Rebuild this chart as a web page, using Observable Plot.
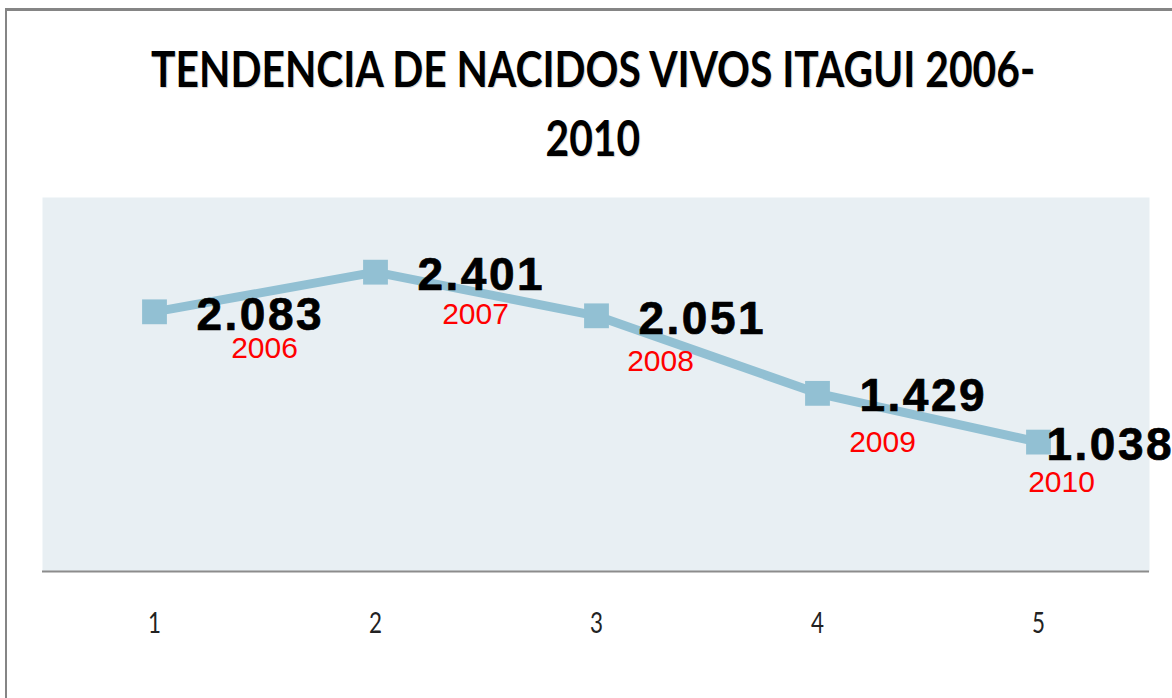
<!DOCTYPE html>
<html>
<head>
<meta charset="utf-8">
<script src="https://cdn.jsdelivr.net/npm/d3@7"></script>
<script src="https://cdn.jsdelivr.net/npm/@observablehq/plot@0.6"></script>
<style>
  html, body { margin: 0; padding: 0; background: #fff; }
  body { width: 1172px; height: 698px; overflow: hidden; position: relative; }
  #border { position: absolute; left: 5px; top: 8px; width: 1300px; height: 900px;
            border-left: 2px solid #858585; border-top: 3px solid #858585; box-sizing: border-box; }
  #title { position: relative; height: 180px; box-sizing: border-box; padding-top: 34px;
           padding-left: 14px; font-family: Lato, "Open Sans", sans-serif; font-weight: 700;
           font-size: 49px; line-height: 69px; color: #000; text-align: center;
           text-shadow: 1px 1px 1px rgba(0,0,0,0.18); }
  #title div span { display: inline-block; transform-origin: 50% 50%; white-space: nowrap; }
  #chart { position: relative; }
</style>
</head>
<body>
<div id="border"></div>
<div id="title"><div><span id="t1">TENDENCIA DE NACIDOS VIVOS ITAGUI 2006-</span></div><div><span id="t2">2010</span></div></div>
<div id="chart"></div>
<script>
// ---- data ----
const xLabels = [1, 2, 3, 4, 5];
const years = ["2006", "2007", "2008", "2009", "2010"];
const births = [2083, 2401, 2051, 1429, 1038];

// ---- label placement (pixel nudges, separate from data) ----
const valueNudgeX = [42, 42, 42, 42, 8];
const yearNudge = [[110, 46], [100, 52], [64, 55], [65, 59], [23, 50]];

const fmt = d3.formatLocale({thousands: ".", decimal: ",", grouping: [3], currency: ["", ""]}).format(",d");
const table = births.map((v, i) => ({idx: xLabels[i], v, year: years[i], label: fmt(v), i}));

const lineColor = "#92c0d3";

const valueMarks = table.map((d, i) => Plot.text([d], {
  x: "idx", y: "v", text: "label", textAnchor: "start", lineAnchor: "bottom",
  dx: valueNudgeX[i], dy: 18, fontSize: 46, fontWeight: "bold",
  fontFamily: "Liberation Sans, Arial, sans-serif", fill: "#000",
  stroke: "#000", strokeWidth: 0.7
}));
const yearMarks = table.map((d, i) => Plot.text([d], {
  x: "idx", y: "v", text: "year", textAnchor: "middle", lineAnchor: "bottom",
  dx: yearNudge[i][0], dy: yearNudge[i][1], fontSize: 30,
  fontFamily: "Liberation Sans, Arial, sans-serif", fill: "#ff0000"
}));

const chart = Plot.plot({
  width: 1172, height: 518,
  marginTop: 17, marginBottom: 127, marginLeft: 42, marginRight: 23,
  style: {background: "transparent", overflow: "visible"},
  x: {type: "point", domain: xLabels, padding: 0.5, align: 0.5, axis: null},
  y: {domain: [0, 3000], axis: null},
  marks: [
    Plot.frame({fill: "#e8eff3", stroke: null}),
    Plot.ruleY([0], {stroke: "#8c8c8c", strokeWidth: 2}),
    Plot.axisX({tickSize: 0, tickPadding: 42, label: null, fontSize: 28,
                fontFamily: "Lato, sans-serif", fill: "#222"}),
    Plot.lineY(table, {x: "idx", y: "v", stroke: lineColor, strokeWidth: 9}),
    Plot.dot(table, {x: "idx", y: "v", symbol: "square", r: 14, fill: lineColor, stroke: null}),
    ...valueMarks,
    ...yearMarks
  ]
});
document.getElementById("chart").appendChild(chart);

// widen spacing of the bold value labels
d3.select(chart).selectAll('g[aria-label="text"][font-weight="bold"]').attr("letter-spacing", "2.5px");

// condense the x tick labels slightly (Calibri-like look)
d3.select(chart).selectAll('g[aria-label="x-axis tick label"] text').each(function() {
  const t = this.getAttribute("transform") || "";
  this.setAttribute("transform", t + " scale(0.8,1)");
});

// fit title width to reference
const t1 = document.getElementById("t1"), t2 = document.getElementById("t2");
const k = 884 / t1.getBoundingClientRect().width;
t1.style.transform = `scaleX(${k})`;
t2.style.transform = `scaleX(${k})`;
</script>
</body>
</html>
